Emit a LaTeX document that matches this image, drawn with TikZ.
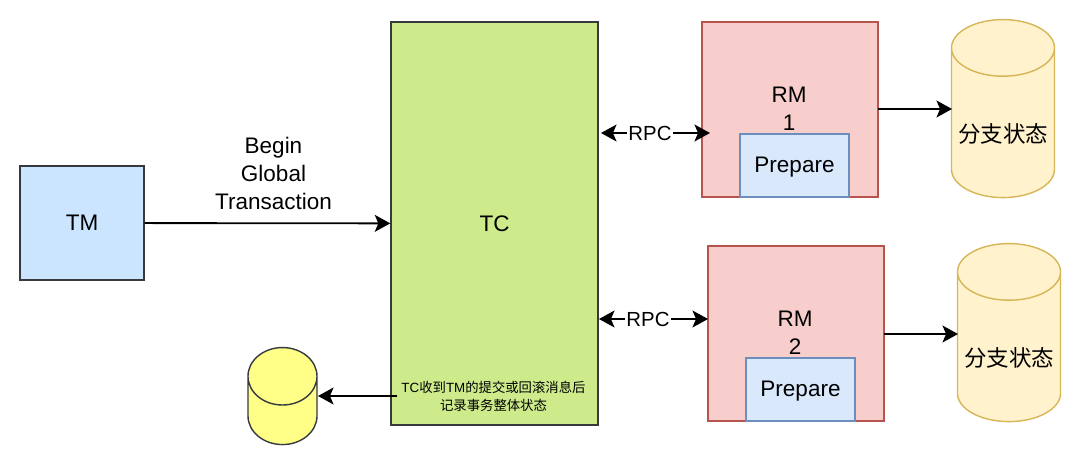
\documentclass[tikz,border=0pt]{standalone}
\usepackage{fontspec}
\setmainfont{Liberation Sans}
\newfontfamily\cjk{Noto Sans CJK SC}
\usetikzlibrary{positioning,shapes.geometric,arrows.meta}
\definecolor{tmblue}{HTML}{CCE5FF}
\definecolor{tmline}{HTML}{36393D}
\definecolor{tcgreen}{HTML}{CDEB8B}
\definecolor{rmred}{HTML}{F8CECC}
\definecolor{rmline}{HTML}{B85450}
\definecolor{prepfill}{HTML}{DAE8FC}
\definecolor{prepline}{HTML}{6C8EBF}
\definecolor{dbfill}{HTML}{FFF2CC}
\definecolor{dbline}{HTML}{D6B656}
\definecolor{logfill}{HTML}{FFFF88}
\tikzset{
	boxtext/.style={font=\fontsize{16}{19.8}\selectfont,align=center},
	tmbox/.style={draw=tmline,fill=tmblue,line width=1pt,boxtext,minimum width=3.1cm,minimum height=2.85cm},
	tcbox/.style={draw=tmline,fill=tcgreen,line width=1pt,boxtext,minimum width=5.175cm,minimum height=10.075cm},
	rmbox/.style={draw=rmline,fill=rmred,line width=1pt,boxtext,minimum width=4.4cm,minimum height=4.375cm},
	prepbox/.style={draw=prepline,fill=prepfill,line width=1pt,boxtext,minimum width=2.725cm,minimum height=1.575cm,text height=11.5pt,text depth=1.3pt},
	dbcyl/.style={cylinder,shape border rotate=90,aspect=0.57,draw=dbline,fill=dbfill,line width=1pt,boxtext,minimum width=2.575cm,minimum height=4.45cm,text height=19.2pt,text depth=0pt},
	logcyl/.style={cylinder,shape border rotate=90,aspect=6.13,draw=tmline,fill=logfill,line width=1pt,minimum width=1.725cm,minimum height=2.425cm},
	arr/.style={-{Stealth[length=11pt,width=12pt,inset=2.5pt]},line width=1.3pt,black},
	lab/.style={boxtext,inner sep=1pt},
	rpclab/.style={font=\fontsize{14.5}{18}\selectfont,inner sep=1pt}
}
\begin{document}
\begin{tikzpicture}[x=0.025cm,y=-0.025cm]
	\useasboundingbox (0,0) rectangle (1080,466);
	% boxes
	\node[tmbox] (tm) at (82,223) {TM};
	\node[tcbox] (tc) at (494.5,223.5) {TC};
	\node[rmbox] (rm1) at (790,109.5) {};
	\node[rmbox] (rm2) at (796,333.5) {};
	\node[lab] (rm1text) at (789,109) {RM\\1};
	\node[lab] (rm2text) at (795,333) {RM\\2};
	\node[prepbox] (prep1) at (794.5,165.5) {Prepare};
	\node[prepbox] (prep2) at (800.5,389.5) {Prepare};
	% cylinders
	\node[dbcyl] (db1) at (1003,129) {\cjk 分支状态};
	\node[dbcyl] (db2) at (1009,353) {\cjk 分支状态};
	\node[logcyl] (logdb) at (282.5,418) {};
	% texts
	\node[lab] (begintext) at (273.5,173.5) {Begin\\Global\\Transaction};
	\node[inner sep=2.8pt,align=center,font=\fontsize{9.5}{12.8}\selectfont] (tclog) at (493.5,396) {TC{\cjk 收到}TM{\cjk 的提交或回滚消息后}\\{\cjk 记录事务整体状态}};
	\node[rpclab] (rpc1) at (650,133) {RPC};
	\node[rpclab] (rpc2) at (648,319) {RPC};
	% connectors
	\coordinate (rpc1l) at (601,133);
	\coordinate (rpc1r) at (710,133);
	\coordinate (rpc2l) at (599,319);
	\coordinate (rpc2r) at (708,319);
	\coordinate (rm1out) at (878,109);
	\coordinate (db1in) at (952,109);
	\coordinate (rm2out) at (884,334);
	\coordinate (db2in) at (958,334);
	\coordinate (login) at (318,396);
	\draw[arr] (tm) -- (tc);
	\draw[arr] (rpc1.west) -- (rpc1l);
	\draw[arr] (rpc1.east) -- (rpc1r);
	\draw[arr] (rpc2.west) -- (rpc2l);
	\draw[arr] (rpc2.east) -- (rpc2r);
	\draw[arr] (rm1out) -- (db1in);
	\draw[arr] (rm2out) -- (db2in);
	\draw[arr] (tclog.west) -- (login);
\end{tikzpicture}
\end{document}
